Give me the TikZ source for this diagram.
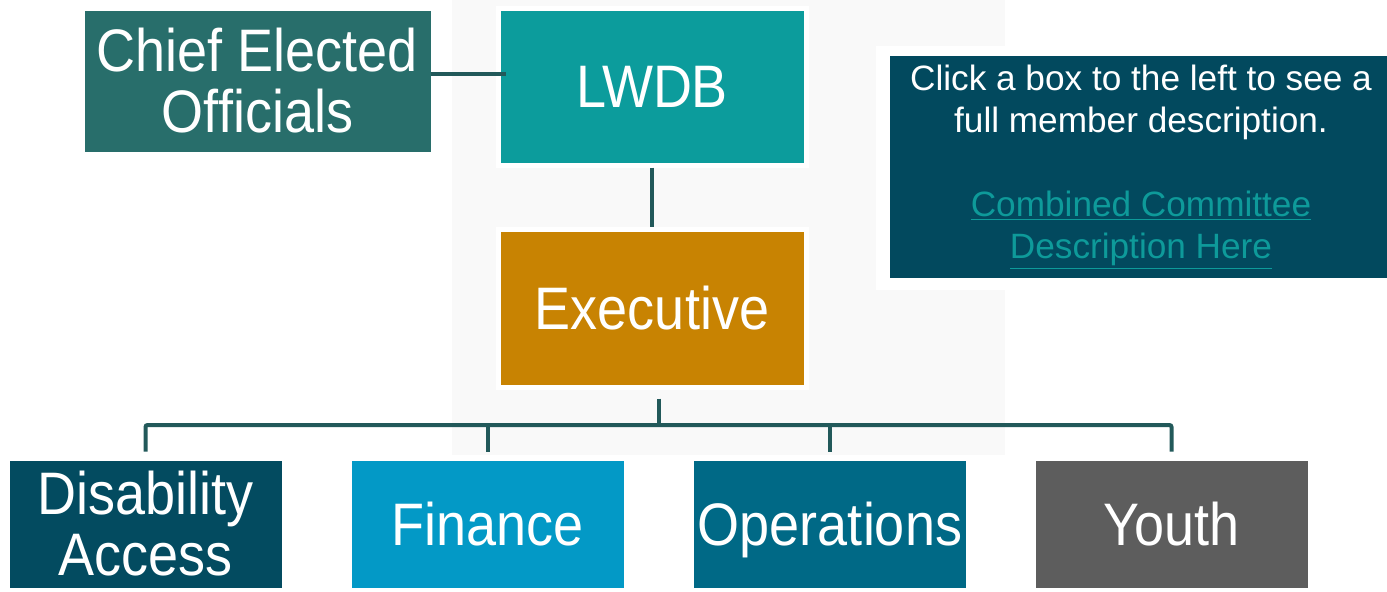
\documentclass[tikz,border=0pt]{standalone}
\usepackage{fontspec}
\setmainfont[FakeStretch=0.9]{Liberation Sans}
\newfontfamily\infofont{Liberation Sans}
\usepackage{tikz}
\usetikzlibrary{positioning}
\usetikzlibrary{calc}

\definecolor{ceocol}{HTML}{286E6B}
\definecolor{lwdbcol}{HTML}{0C9C9C}
\definecolor{execcol}{HTML}{C88302}
\definecolor{discol}{HTML}{034B60}
\definecolor{fincol}{HTML}{0399C6}
\definecolor{opscol}{HTML}{006986}
\definecolor{youthcol}{HTML}{5D5D5D}
\definecolor{infocol}{HTML}{02495E}
\definecolor{linkcol}{HTML}{0E9A9A}
\definecolor{linecol}{HTML}{22595A}

\begin{document}
\begin{tikzpicture}[x=0.50pt,y=0.50pt,yscale=-1,xscale=1,
  box/.style={draw=white, line width=2.5pt, inner sep=0pt, align=center,
    text=white, font=\fontsize{30}{30.5}\selectfont},
  topbox/.style={box, minimum width=154pt},
  subbox/.style={box, minimum width=138.5pt, minimum height=66pt},
  conn/.style={draw=linecol, line width=2pt}]
\clip (0,0) rectangle (1387,591);

%Shape: faded picture behind the chart
\fill [black!2.5] (452,0) rectangle (1005,455) ;
%Shape: white frame of the info box
\fill [white] (876,46) rectangle (1387,290) ;

% Text Node
\node [box, fill=ceocol, minimum width=175.5pt, minimum height=73pt] (ceo) at (257.5,81) {Chief Elected\\Officials};
% Text Node
\node [topbox, fill=lwdbcol, minimum height=78.5pt] (lwdb) at (652,86.5) {LWDB};
% Text Node
\node [topbox, fill=execcol, minimum height=79pt] (exec) at (652,308) {Executive};
% Text Node
\node [subbox, fill=discol] (dis) at (145.5,524) {Disability\\Access};
% Text Node
\node [subbox, fill=fincol] (fin) at (487.5,524) {Finance};
% Text Node
\node [subbox, fill=opscol, text depth=0pt] (ops) at (830,524) {Operations};
% Text Node
\node [subbox, fill=youthcol] (youth) at (1171.5,524) {Youth};
% Text Node
\node [fill=infocol, inner sep=0pt, minimum width=251pt, minimum height=111pt, align=center, text=white,
  font=\infofont\fontsize{17.6}{21}\selectfont] (info) at (1141,167)
  {Click a box to the left to see a\\full member description.\\[21pt]
   \textcolor{linkcol}{\underline{Combined Committee}}\\\textcolor{linkcol}{\underline{Description Here}}};

\coordinate (bus) at (659,425);

% Connection
\draw [conn] ($(ceo.east)+(-5,-7)$) -- ($(ceo.east -| lwdb.west)+(10,-7)$) ;
% Connection
\draw [conn] (lwdb) -- (exec) ;
% Connection
\draw [conn] ($(exec.south -| bus)+(0,9)$) -- (bus) ;
% Connection
\draw [conn, rounded corners=1pt] ($(dis.north)+(0,-4)$) -- (dis.north |- bus) -- (youth.north |- bus) -- ($(youth.north)+(0,-4)$) ;
\foreach \n in {fin,ops}
  \draw [conn] (\n.north |- bus) -- ($(\n.north)+(0,-4)$) ;

\end{tikzpicture}
\end{document}
